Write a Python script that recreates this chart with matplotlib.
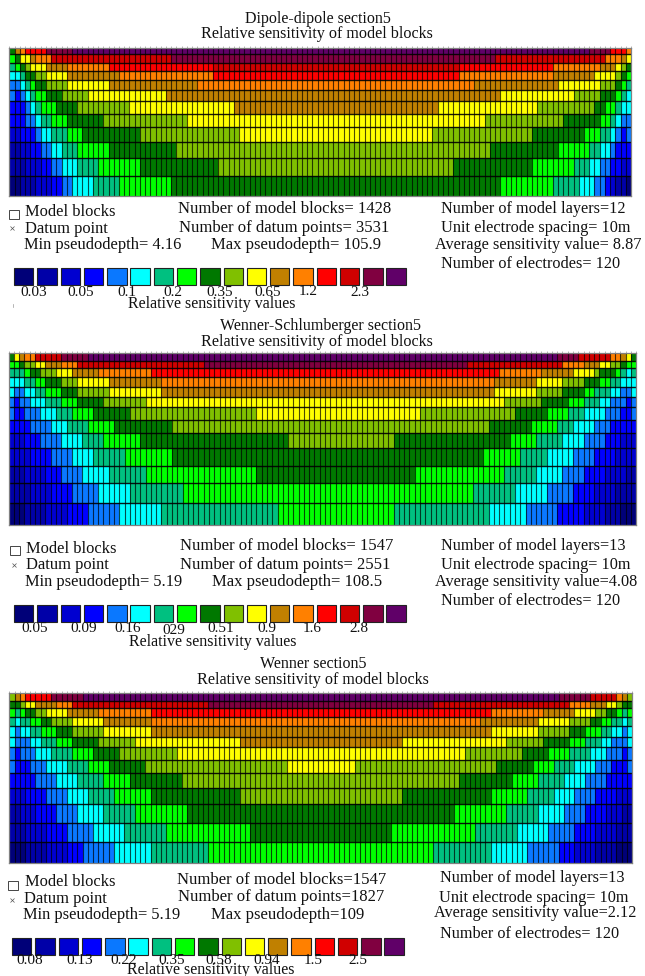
import numpy as np
import matplotlib
matplotlib.use("Agg")
import matplotlib.pyplot as plt
from matplotlib.colors import ListedColormap, BoundaryNorm
from matplotlib.patches import Rectangle

plt.rcParams['font.family'] = ['Liberation Serif', 'DejaVu Serif']

W, H = 645, 976
palette = ['#000078', '#0000a8', '#0000d0', '#0000ff', '#0a78ff', '#00ffff', '#00c080',
           '#00ff00', '#007800', '#80c000', '#ffff00', '#c08000', '#ff8000', '#ff0000',
           '#d00000', '#800040', '#600068']

# Each model row: (sensitivity class, number of blocks) from left to right
dipole_runs = [
 [(8,1),(11,1),(12,1),(13,4),(15,5),(16,99),(15,4),(13,3),(12,1)],
 [(7,1),(8,1),(10,2),(11,1),(12,3),(14,23),(15,62),(14,21),(12,3),(11,1),(10,1)],
 [(6,1),(7,1),(8,1),(9,1),(10,3),(11,4),(12,8),(13,20),(14,47),(13,18),(12,9),(11,3),(10,1),(9,1),(8,1)],
 [(5,2),(6,1),(8,2),(9,2),(10,4),(11,10),(12,18),(13,47),(12,18),(11,8),(10,4),(9,1),(8,1),(7,1)],
 [(4,2),(5,1),(6,1),(7,1),(8,2),(9,4),(10,8),(11,17),(12,53),(11,16),(10,8),(9,3),(8,1),(7,1),(6,1)],
 [(4,1),(3,1),(4,1),(5,1),(6,1),(7,2),(8,3),(9,5),(10,15),(11,64),(10,14),(9,5),(8,3),(7,1),(6,1),(5,1)],
 [(3,3),(4,1),(5,1),(6,1),(7,3),(8,4),(9,10),(10,20),(11,39),(10,19),(9,11),(8,2),(7,2),(6,1),(5,2)],
 [(3,3),(4,2),(5,1),(6,2),(7,3),(8,7),(9,16),(10,57),(9,15),(8,7),(7,2),(6,1),(5,1),(4,2)],
 [(2,2),(3,3),(4,1),(5,2),(6,3),(7,3),(8,11),(9,19),(10,37),(9,19),(8,10),(7,3),(6,2),(5,1),(4,1),(3,1),(4,1)],
 [(1,2),(2,2),(3,2),(4,2),(5,2),(6,3),(7,6),(8,13),(9,60),(8,13),(7,6),(6,2),(5,2),(4,1),(3,3)],
 [(1,3),(2,3),(3,2),(4,2),(5,3),(6,4),(7,8),(8,15),(9,45),(8,15),(7,8),(6,3),(5,2),(4,2),(3,2),(2,2)],
 [(0,2),(1,3),(2,3),(3,2),(4,2),(5,4),(6,5),(7,10),(8,63),(7,10),(6,5),(5,3),(4,2),(3,1),(2,1),(1,2),(0,1)],
]
schlumberger_runs = [
 [(8,1),(10,1),(11,1),(12,2),(14,5),(15,5),(16,89),(15,4),(14,6),(12,2),(11,1),(10,1),(8,1)],
 [(7,2),(8,1),(9,2),(10,2),(11,3),(12,3),(14,24),(15,50),(14,18),(12,4),(11,3),(10,2),(9,2),(8,1),(7,2)],
 [(6,3),(7,1),(8,2),(9,3),(10,3),(11,5),(12,10),(13,66),(12,8),(11,6),(10,4),(9,1),(8,3),(7,1),(6,1),(5,1),(6,1)],
 [(5,3),(6,2),(7,2),(8,3),(9,3),(10,6),(11,10),(12,63),(11,8),(10,5),(9,4),(8,3),(7,2),(6,2),(5,3)],
 [(5,1),(4,2),(5,2),(6,2),(7,3),(8,3),(9,6),(10,10),(11,63),(10,8),(9,5),(8,4),(7,2),(6,3),(5,2),(4,2),(5,1)],
 [(4,1),(3,1),(4,2),(5,3),(6,3),(7,3),(8,5),(9,8),(10,68),(9,7),(8,5),(7,3),(6,3),(5,2),(4,3),(3,1),(4,1)],
 [(4,1),(3,2),(4,3),(5,3),(6,3),(7,4),(8,7),(9,24),(10,31),(9,18),(8,6),(7,4),(6,3),(5,4),(4,3),(3,2),(4,1)],
 [(3,4),(4,4),(5,3),(6,4),(7,5),(8,11),(9,60),(8,8),(7,5),(6,3),(5,4),(4,3),(3,5)],
 [(2,3),(3,3),(4,4),(5,4),(6,4),(7,7),(8,28),(9,20),(8,22),(7,5),(6,5),(5,4),(4,4),(3,3),(2,3)],
 [(2,4),(3,4),(4,4),(5,4),(6,6),(7,9),(8,59),(7,7),(6,5),(5,5),(4,4),(3,4),(2,4)],
 [(1,3),(2,4),(3,3),(4,4),(5,5),(6,7),(7,21),(8,30),(7,17),(6,6),(5,5),(4,4),(3,4),(2,4),(1,2)],
 [(1,4),(2,4),(3,4),(4,5),(5,6),(6,10),(7,55),(6,8),(5,6),(4,5),(3,4),(2,4),(1,4)],
 [(0,3),(1,4),(2,4),(3,4),(4,6),(5,8),(6,22),(7,22),(6,18),(5,7),(4,6),(3,5),(2,4),(1,3),(0,3)],
]
wenner_runs = [
 [(9,1),(11,1),(12,1),(13,5),(15,6),(16,91),(15,6),(14,5),(12,1),(11,1),(9,1)],
 [(8,2),(9,1),(10,2),(11,4),(12,3),(14,26),(15,43),(14,26),(12,4),(11,3),(10,2),(9,1),(8,2)],
 [(7,1),(6,1),(7,1),(8,2),(9,2),(10,4),(11,6),(12,10),(13,65),(12,10),(11,6),(10,4),(9,2),(8,2),(7,1),(6,1),(7,1)],
 [(6,1),(5,1),(6,2),(7,2),(8,2),(9,4),(10,6),(11,9),(12,63),(11,11),(10,6),(9,4),(8,2),(7,2),(6,2),(5,1),(6,1)],
 [(5,1),(4,1),(5,2),(6,2),(7,3),(8,3),(9,6),(10,9),(11,65),(10,9),(9,6),(8,3),(7,3),(6,2),(5,2),(4,1),(5,1)],
 [(5,1),(4,3),(5,2),(6,3),(7,3),(8,5),(9,7),(10,20),(11,31),(10,20),(9,7),(8,5),(7,3),(6,3),(5,2),(4,3),(5,1)],
 [(4,1),(3,1),(4,3),(5,3),(6,4),(7,4),(8,5),(9,11),(10,55),(9,11),(8,5),(7,4),(6,4),(5,3),(4,3),(3,1),(4,1)],
 [(4,1),(3,3),(4,3),(5,4),(6,4),(7,4),(8,7),(9,27),(10,13),(9,27),(8,7),(7,4),(6,4),(5,4),(4,3),(3,3),(4,1)],
 [(3,5),(4,4),(5,4),(6,5),(7,5),(8,10),(9,53),(8,10),(7,5),(6,5),(5,4),(4,4),(3,5)],
 [(2,3),(3,4),(4,4),(5,4),(6,5),(7,7),(8,17),(9,31),(8,17),(7,7),(6,5),(5,4),(4,4),(3,4),(2,3)],
 [(1,2),(2,3),(3,4),(4,4),(5,5),(6,6),(7,10),(8,51),(7,10),(6,6),(5,5),(4,4),(3,4),(2,3),(1,2)],
 [(1,3),(2,4),(3,4),(4,5),(5,6),(6,8),(7,16),(8,27),(7,16),(6,8),(5,6),(4,5),(3,4),(2,4),(1,3)],
 [(0,3),(1,4),(2,4),(3,3),(4,6),(5,7),(6,11),(7,43),(6,11),(5,7),(4,6),(3,3),(2,4),(1,4),(0,3)],
]
dipole_layers = [0, 6.2, 14.4, 22.7, 31.7, 41.7, 53, 65.7, 79, 93.4, 110, 127.7, 147.4]
schlumberger_layers = [0, 7.4, 15, 24, 33.4, 43.4, 54, 66.7, 80, 95, 112.4, 130, 150, 171.7]
wenner_layers = [0, 7.4, 15, 23.4, 32.4, 43.4, 54, 66.7, 80, 95, 111, 130, 148.4, 170]

dipole_ticks = ['0.03', '0.05', '0.1', '0.2', '0.35', '0.65', '1.2', '2.3']
schlumberger_ticks = ['0.05', '0.09', '0.16', '029', '0.51', '0.9', '1.6', '2.8']
wenner_ticks = ['0.08', '0.13', '0.22', '0.35', '0.58', '0.94', '1.5', '2.5']

panels = [
 dict(runs=dipole_runs, layers=dipole_layers, box=(9.3, 631, 48.3),
      title=('Dipole-dipole section5', 318, 19), sub=(317, 34),
      left=[('Model blocks', 25, 212), ('Datum point', 25, 229), ('Min pseudodepth= 4.16', 24, 245)],
      mid=[('Number of model blocks= 1428', 178, 209), ('Number of datum points= 3531', 179, 228), ('Max pseudodepth= 105.9', 211, 245)],
      right=[('Number of model layers=12', 441, 209), ('Unit electrode spacing= 10m', 441, 228),
             ('Average sensitivity value= 8.87', 435, 245), ('Number of electrodes= 120', 441, 264)],
      marks=(14, 214, 12, 228), swatch=(14, 267.5, 17), ticks=dipole_ticks,
      tick_x=[34, 81, 127, 173, 220, 268, 308, 360], tick_y=[292.5, 292.5, 292.5, 292.5, 292, 293, 291.5, 292],
      rel=(128, 304.5)),
 dict(runs=schlumberger_runs, layers=schlumberger_layers, box=(8.5, 636.3, 353.3),
      title=('Wenner-Schlumberger section5', 321, 326), sub=(317, 342),
      left=[('Model blocks', 26, 549), ('Datum point', 26, 565), ('Min pseudodepth= 5.19', 25, 582)],
      mid=[('Number of model blocks= 1547', 180, 546), ('Number of datum points= 2551', 180, 565), ('Max pseudodepth= 108.5', 212, 582)],
      right=[('Number of model layers=13', 441, 546), ('Unit electrode spacing= 10m', 441, 565),
             ('Average sensitivity value=4.08', 435, 582), ('Number of electrodes= 120', 441, 601)],
      marks=(15, 550, 14, 565), swatch=(14, 605, 17), ticks=schlumberger_ticks,
      tick_x=[35, 84, 128, 174, 221, 267, 312, 359], tick_y=[629, 629, 629, 630, 628.5, 628.5, 629, 628.5],
      rel=(129, 642)),
 dict(runs=wenner_runs, layers=wenner_layers, box=(9.3, 632, 693.3),
      title=('Wenner section5', 313, 664), sub=(313, 680),
      left=[('Model blocks', 25, 882), ('Datum point', 24, 899), ('Min pseudodepth= 5.19', 23, 915)],
      mid=[('Number of model blocks=1547', 177, 880), ('Number of datum points=1827', 178, 897), ('Max pseudodepth=109', 211, 915)],
      right=[('Number of model layers=13', 440, 878), ('Unit electrode spacing= 10m', 439, 898),
             ('Average sensitivity value=2.12', 434, 913), ('Number of electrodes= 120', 440, 934)],
      marks=(13, 885, 12, 900), swatch=(12, 938, 17), ticks=wenner_ticks,
      tick_x=[30, 80, 124, 172, 219, 267, 313, 358], tick_y=[961, 961, 960.5, 960.5, 960.5, 960.5, 960.5, 960.5],
      rel=(127, 970)),
]

fig = plt.figure(figsize=(W / 100, H / 100), dpi=100, facecolor='white')
overlay = fig.add_axes([0, 0, 1, 1], zorder=5)
overlay.set_xlim(0, W)
overlay.set_ylim(H, 0)
overlay.axis('off')

cmap = ListedColormap(palette)
norm = BoundaryNorm(np.arange(-0.5, len(palette)), len(palette))
INK = '#111111'

for p in panels:
    grid = np.array([np.repeat([c for c, n in r], [n for c, n in r]) for r in p['runs']])
    x0, x1, y0 = p['box']
    depth = np.array(p['layers'], float)
    ax = fig.add_axes([x0 / W, 1 - (y0 + depth[-1]) / H, (x1 - x0) / W, depth[-1] / H])
    cols = np.arange(grid.shape[1] + 1)
    ax.pcolormesh(cols, depth, grid, cmap=cmap, norm=norm, shading='flat')
    ax.set_xlim(cols[0], cols[-1])
    ax.set_ylim(depth[-1], depth[0])
    ax.vlines(cols[1:-1], depth[0], depth[-1], color='black', lw=0.8, alpha=0.7)
    ax.hlines(depth[1:-1], cols[0], cols[-1], color='black', lw=1.0, alpha=0.9)
    ax.set_xticks(cols)
    ax.set_xticklabels([])
    ax.set_yticks([])
    ax.tick_params(axis='x', top=True, bottom=False, length=1.4, width=0.5, color='#999999', direction='out')
    for s in ax.spines.values():
        s.set_color('#808080')
        s.set_linewidth(0.9)

    name, x, y = p['title']
    overlay.text(x, y, name, ha='center', va='center', fontsize=11.5, color=INK)
    overlay.text(p['sub'][0], p['sub'][1], 'Relative sensitivity of model blocks', ha='center', va='center',
                 fontsize=11.6, color=INK)
    for group, fs in ((p['left'], 11.9), (p['mid'], 11.95), (p['right'], 11.7)):
        for s, x, y in group:
            overlay.text(x, y, s, ha='left', va='center', fontsize=fs, color=INK)

    bx, by, dx, dy = p['marks']
    overlay.add_patch(Rectangle((bx - 5, by - 4.5), 10, 9, fc='white', ec='#444444', lw=0.7))
    overlay.plot([dx], [dy], marker='x', ms=2.5, mew=0.5, color='#555555')

    sx, sy, sh = p['swatch']
    for i, col in enumerate(palette):
        overlay.add_patch(Rectangle((sx + i * 23.28, sy), 19.4, sh, fc=col, ec='#222222', lw=0.8))
    for lab, tx, ty in zip(p['ticks'], p['tick_x'], p['tick_y']):
        overlay.text(tx, ty, lab, ha='center', va='center', fontsize=11, color=INK)
    overlay.text(p['rel'][0], p['rel'][1], 'Relative sensitivity values', ha='left', va='center',
                 fontsize=11.5, color=INK)

overlay.plot([13, 13], [304, 307], color='#999999', lw=0.5)

fig.savefig('out.png', dpi=100)
